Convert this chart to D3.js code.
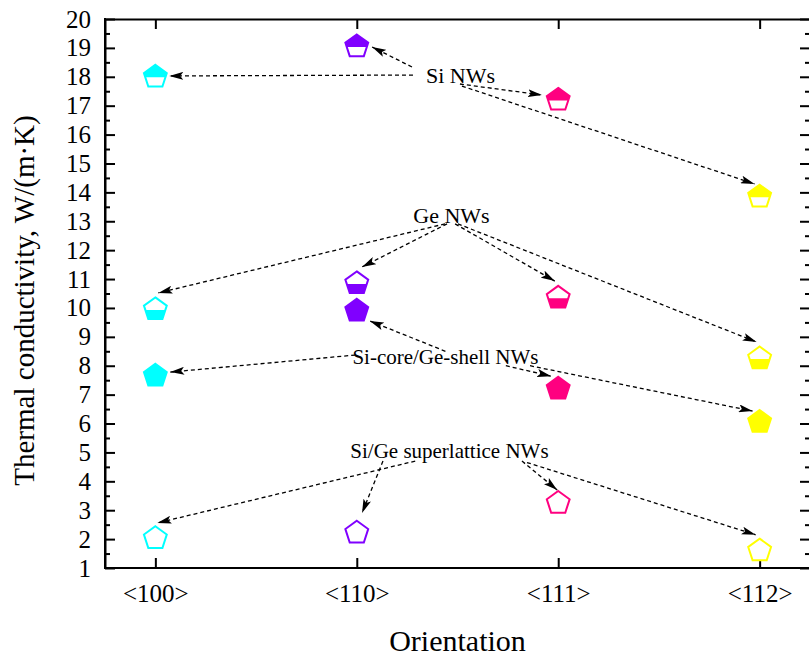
<!DOCTYPE html>
<html><head><meta charset="utf-8">
<script src="https://cdn.jsdelivr.net/npm/d3@7"></script>
<style>body{margin:0;background:#fff}svg{display:block}text{font-family:"Liberation Serif","Times New Roman",serif;fill:#000}</style>
</head><body>
<svg id="chart" width="809" height="657"></svg>
<script>
const categories = ["<100>", "<110>", "<111>", "<112>"];
const siNWs = [18.0, 19.05, 17.2, 13.85];
const geNWs = [9.95, 10.85, 10.35, 8.25];
const coreShell = [7.65, 9.9, 7.2, 6.05];
const superlattice = [2.03, 2.22, 3.25, 1.6];
const orientColors = ["#00FFFF", "#8000FF", "#FF0080", "#FFFF00"];
const yTickValues = d3.range(1, 21);
const yMinorValues = d3.range(1.5, 20, 1);

// annotation labels: [text, x(data), y(data), font size]
const labels = [
  ["Si NWs", 2.515, 17.8, 22],
  ["Ge NWs", 2.47, 12.95, 22],
  ["Si-core/Ge-shell NWs", 2.44, 8.05, 21],
  ["Si/Ge superlattice NWs", 2.46, 4.82, 21]
];
// arrows: [x1, y1, x2, y2] in data units
const arrows = [
  [2.279, 18.06, 1.069, 18.03],
  [2.274, 18.34, 2.076, 19.03],
  [2.512, 17.75, 2.919, 17.37],
  [2.522, 17.68, 3.975, 14.29],
  [2.438, 12.91, 1.015, 10.52],
  [2.448, 12.91, 2.026, 11.42],
  [2.488, 12.91, 2.983, 10.93],
  [2.502, 12.91, 3.985, 8.82],
  [1.992, 8.37, 1.074, 7.78],
  [2.440, 8.50, 2.065, 9.55],
  [2.740, 8.00, 2.965, 7.64],
  [2.860, 8.00, 3.965, 6.43],
  [2.290, 4.70, 1.010, 2.56],
  [2.130, 4.70, 2.026, 2.90],
  [2.820, 4.70, 2.995, 3.70],
  [2.845, 4.65, 3.980, 2.15]
];

const svg = d3.select("#chart");
const L = 105, R = 810, T = 19, B = 568;
const x = d3.scaleLinear().domain([0.75, 4.25]).range([L, R]);
const y = d3.scaleLinear().domain([1, 20]).range([B, T]);

svg.append("defs").html(`
  <clipPath id="clipTop" clipPathUnits="userSpaceOnUse"><rect x="-20" y="-20" width="40" height="20.5"/></clipPath>
  <clipPath id="clipBot" clipPathUnits="userSpaceOnUse"><rect x="-20" y="0.5" width="40" height="20"/></clipPath>
  <marker id="ah" viewBox="0 0 14 8" refX="14" refY="4" markerWidth="14" markerHeight="8" markerUnits="userSpaceOnUse" orient="auto">
    <path d="M0,0 L14,4 L0,8 L3,4 Z" fill="#000"/>
  </marker>`);

// axes (box)
const fs = 25;
const axL = svg.append("g").attr("transform", `translate(${L},0)`)
  .call(d3.axisLeft(y).tickValues(yTickValues).tickFormat(d3.format("d")).tickSizeInner(-10).tickSizeOuter(0).tickPadding(14));
const axLm = svg.append("g").attr("transform", `translate(${L},0)`)
  .call(d3.axisLeft(y).tickValues(yMinorValues).tickFormat("").tickSizeInner(-5).tickSizeOuter(0));
const axR = svg.append("g").attr("transform", `translate(${R},0)`)
  .call(d3.axisRight(y).tickValues(yTickValues).tickFormat("").tickSizeInner(-10).tickSizeOuter(0));
const axRm = svg.append("g").attr("transform", `translate(${R},0)`)
  .call(d3.axisRight(y).tickValues(yMinorValues).tickFormat("").tickSizeInner(-5).tickSizeOuter(0));
const axB = svg.append("g").attr("transform", `translate(0,${B})`)
  .call(d3.axisBottom(x).tickValues([1,2,3,4]).tickFormat((d,i)=>categories[i]).tickSizeInner(-10).tickSizeOuter(0).tickPadding(16));
const axT = svg.append("g").attr("transform", `translate(0,${T})`)
  .call(d3.axisTop(x).tickValues([1,2,3,4]).tickFormat("").tickSizeInner(-10).tickSizeOuter(0));
[axL, axLm, axR, axRm, axB, axT].forEach(g => {
  g.selectAll(".domain").attr("stroke", "#000").attr("stroke-width", 2);
  g.selectAll(".tick line").attr("stroke", "#000").attr("stroke-width", 2);
  g.selectAll("text").attr("font-family", "Liberation Serif, serif").attr("font-size", fs).attr("fill", "#000");
});
axL.select(".domain").attr("d", `M0,${T-1}V${B+1}`);
axB.select(".domain").attr("d", `M${L-1},0H${R+1}`);

// axis titles
svg.append("text").attr("x", (L + R) / 2).attr("y", 651).attr("text-anchor", "middle")
  .attr("font-size", 30).text("Orientation");
svg.append("text").attr("transform", `translate(34,${(T + B) / 2 + 7}) rotate(-90)`).attr("text-anchor", "middle")
  .attr("font-size", 29).text("Thermal conductivity, W/(m\u00B7K)");

// arrows
svg.append("g").selectAll("line").data(arrows).join("line")
  .attr("x1", d => x(d[0])).attr("y1", d => y(d[1]))
  .attr("x2", d => x(d[2])).attr("y2", d => y(d[3]))
  .attr("stroke", "#000").attr("stroke-width", 1.3).attr("stroke-dasharray", "4,3")
  .attr("marker-end", "url(#ah)");

// labels
svg.append("g").selectAll("text").data(labels).join("text")
  .attr("x", d => x(d[1])).attr("y", d => y(d[2])).attr("text-anchor", "middle")
  .attr("font-size", d => d[3]).text(d => d[0]);

// markers
const Rp = 12;
const pent = d3.range(5).map(k => {
  const a = (-90 + 72 * k) * Math.PI / 180;
  return [Rp * Math.cos(a), Rp * Math.sin(a)];
});
const pentPath = "M" + pent.map(p => p.join(",")).join("L") + "Z";
const series = [
  {values: siNWs, fill: "top"},
  {values: geNWs, fill: "bottom"},
  {values: coreShell, fill: "full"},
  {values: superlattice, fill: "none"}
];
series.forEach(s => {
  s.values.forEach((v, i) => {
    const g = svg.append("g").attr("transform", `translate(${x(i + 1)},${y(v)})`);
    const c = orientColors[i];
    g.append("path").attr("d", pentPath).attr("fill", "#fff");
    if (s.fill === "full") g.append("path").attr("d", pentPath).attr("fill", c);
    if (s.fill === "top") g.append("path").attr("d", pentPath).attr("fill", c).attr("clip-path", "url(#clipTop)");
    if (s.fill === "bottom") g.append("path").attr("d", pentPath).attr("fill", c).attr("clip-path", "url(#clipBot)");
    g.append("path").attr("d", pentPath).attr("fill", "none").attr("stroke", c).attr("stroke-width", 2).attr("stroke-linejoin", "miter");
  });
});
</script>
</body></html>
